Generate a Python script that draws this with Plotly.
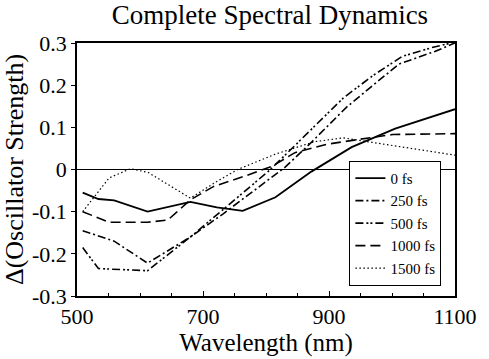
import plotly.graph_objects as go

# ---- data ----
wl_0 = [509, 534, 559, 612, 680, 722, 763, 815, 872, 936, 1005, 1100]
v_0 = [-0.055, -0.07, -0.073, -0.10, -0.077, -0.09, -0.098, -0.066, -0.005, 0.053, 0.097, 0.143]

wl_250 = [509, 559, 612, 680, 732, 790, 830, 869, 928, 970, 1011, 1068, 1100]
v_250 = [-0.145, -0.17, -0.222, -0.16, -0.105, -0.04, 0.005, 0.06, 0.148, 0.20, 0.25, 0.28, 0.30]

wl_500 = [509, 534, 612, 680, 740, 807, 846, 885, 923, 970, 1016, 1063, 1100]
v_500 = [-0.185, -0.235, -0.24, -0.16, -0.085, 0.0, 0.057, 0.115, 0.17, 0.223, 0.268, 0.289, 0.302]

wl_1000 = [509, 551, 612, 644, 680, 717, 768, 810, 846, 897, 950, 1001, 1100]
v_1000 = [-0.10, -0.125, -0.125, -0.12, -0.072, -0.04, -0.015, 0.008, 0.04, 0.06, 0.072, 0.083, 0.085]

wl_1500 = [509, 551, 585, 613, 680, 720, 755, 814, 877, 923, 970, 1030, 1100]
v_1500 = [-0.10, -0.02, 0.002, -0.007, -0.068, -0.03, 0.0, 0.036, 0.066, 0.075, 0.064, 0.05, 0.034]

series_names = ["0 fs", "250 fs", "500 fs", "1000 fs", "1500 fs"]
x_ticks = [500, 700, 900, 1100]
y_ticks = [-0.3, -0.2, -0.1, 0, 0.1, 0.2, 0.3]
y_tick_labels = ["-0.3", "-0.2", "-0.1", "0", "0.1", "0.2", "0.3"]

FONT = "Liberation Serif"

styles = [
    dict(dash="solid", width=1.8),
    dict(dash="8px,3px,2px,3px", width=1.6),
    dict(dash="8px,3px,2px,2px,2px,3px", width=1.6),
    dict(dash="10px,5px", width=1.6),
    dict(dash="1.5px,2.5px", width=1.2),
]

fig = go.Figure()
for wl, v, name, st in zip(
    [wl_0, wl_250, wl_500, wl_1000, wl_1500],
    [v_0, v_250, v_500, v_1000, v_1500],
    series_names, styles,
):
    fig.add_trace(go.Scatter(
        x=wl, y=v, mode="lines", name=name,
        line=dict(color="black", **st),
    ))

fig.update_layout(
    width=489, height=359,
    margin=dict(l=77, r=25, t=43, b=52),
    paper_bgcolor="white", plot_bgcolor="white",
    font=dict(family=FONT, color="black", size=22),
    title=dict(text="Complete Spectral Dynamics", x=0.552, xanchor="center",
               y=0.985, yanchor="top", font=dict(size=27, family=FONT)),
    showlegend=True,
    legend=dict(x=0.964, y=0.04, xanchor="right", yanchor="bottom",
                bgcolor="white", bordercolor="black", borderwidth=1,
                font=dict(size=15, family=FONT), itemwidth=30,
                tracegroupgap=0),
)

fig.update_xaxes(
    range=[500, 1100], tickvals=x_ticks, showgrid=False,
    showline=True, linecolor="black", linewidth=1.5, mirror=True,
    ticks="inside", ticklen=5, tickcolor="black",
    minor=dict(dtick=50, ticks="inside", ticklen=3, tickcolor="black", showgrid=False),
    zeroline=False,
    tickfont=dict(size=22, family=FONT),
    title=dict(text="Wavelength (nm)", font=dict(size=25, family=FONT), standoff=0),
)
fig.update_yaxes(
    range=[-0.3, 0.3], tickvals=y_ticks, ticktext=y_tick_labels, showgrid=False,
    showline=True, linecolor="black", linewidth=1.5, mirror=True,
    ticks="outside", ticklen=4, tickcolor="black",
    zeroline=True, zerolinecolor="black", zerolinewidth=1,
    tickfont=dict(size=22, family=FONT),
    title=dict(text="Δ(Oscillator Strength)", font=dict(size=26, family=FONT), standoff=2),
)

fig.write_html("out.html")
